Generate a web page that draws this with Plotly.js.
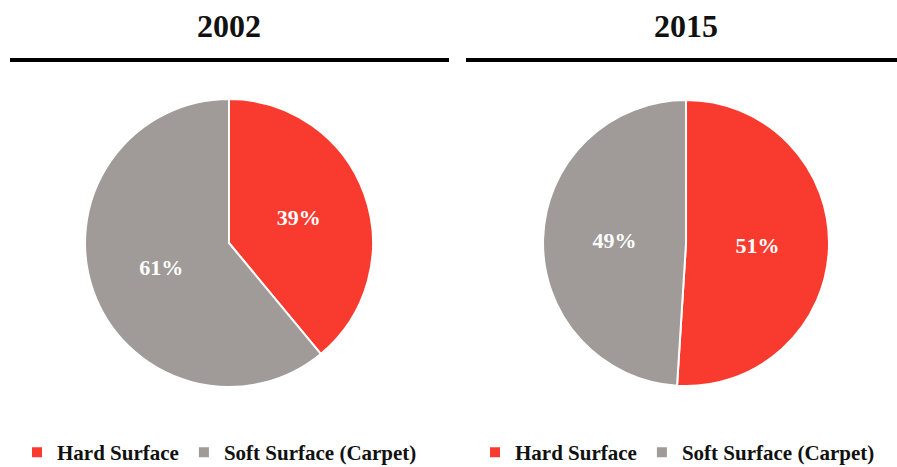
<!DOCTYPE html>
<html><head><meta charset="utf-8">
<script src="https://cdn.plot.ly/plotly-3.0.1.min.js"></script>
<style>html,body{margin:0;padding:0;background:#fff}</style>
</head><body><div id="chart" style="width:897px;height:467px"></div>
<script>
const labels = ['Hard Surface', 'Soft Surface (Carpet)'];
// second pie uses the same visible labels; a zero-width space keeps its legend entries separate
const labels2015 = labels.map(l => l + '\u200b');
const years = ['2002', '2015'];
const values2002 = [39, 61];
const values2015 = [51, 49];
const colors = ['#F93A2E', '#A09A98'];

const font = 'Liberation Serif, Times New Roman, serif';
const pieBase = {
  type: 'pie', sort: false, direction: 'clockwise', rotation: 0,
  marker: {colors: colors, line: {color: '#ffffff', width: 2}},
  textinfo: 'percent', textposition: 'inside', insidetextorientation: 'horizontal',
  texttemplate: '%{percent:.0%}',
  textfont: {family: font, size: 22, color: '#ffffff', weight: 'bold'},
  hoverinfo: 'label+percent'
};
const data = [
  Object.assign({}, pieBase, {labels: labels, values: values2002, domain: {x: [0.0948, 0.4158], y: [0.1713, 0.788]}, legend: 'legend'}),
  Object.assign({}, pieBase, {labels: labels2015, values: values2015, domain: {x: [0.6054, 0.9242], y: [0.1734, 0.7859]}, legend: 'legend2'})
];
const legFont = {family: font, size: 21, color: '#111', weight: 'bold'};
const legY = -6/467;
const layout = {
  width: 897, height: 467,
  margin: {l: 0, r: 0, t: 0, b: 0, autoexpand: false},
  paper_bgcolor: '#fff',
  showlegend: true,
  legend: {orientation: 'h', x: 17/897, y: legY, xanchor: 'left', yanchor: 'bottom', font: legFont, itemclick: false, traceorder: 'normal'},
  legend2: {orientation: 'h', x: 475/897, y: legY, xanchor: 'left', yanchor: 'bottom', font: legFont, itemclick: false, traceorder: 'normal'},
  annotations: [
    {text: years[0], x: 229/897, y: 1 - 26.5/467, xref: 'paper', yref: 'paper', xanchor: 'center', yanchor: 'middle', showarrow: false, font: {family: font, size: 32, color: '#111', weight: 'bold'}},
    {text: years[1], x: 686/897, y: 1 - 26.5/467, xref: 'paper', yref: 'paper', xanchor: 'center', yanchor: 'middle', showarrow: false, font: {family: font, size: 32, color: '#111', weight: 'bold'}}
  ],
  shapes: [
    {type: 'line', xref: 'paper', yref: 'paper', x0: 10/897, x1: 449/897, y0: 1 - 60/467, y1: 1 - 60/467, line: {color: '#000', width: 4}},
    {type: 'line', xref: 'paper', yref: 'paper', x0: 466/897, x1: 1.0, y0: 1 - 60/467, y1: 1 - 60/467, line: {color: '#000', width: 4}}
  ]
};
Plotly.newPlot('chart', data, layout, {displayModeBar: false, staticPlot: true});
</script></body></html>
